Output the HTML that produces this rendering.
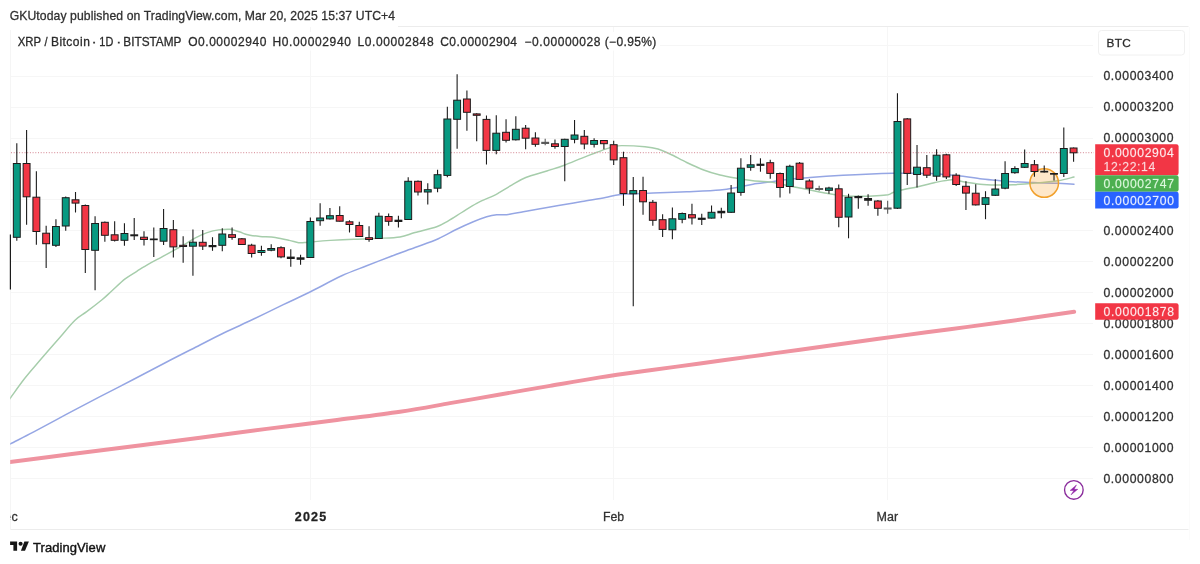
<!DOCTYPE html>
<html lang="en">
<head>
<meta charset="utf-8">
<title>XRP / Bitcoin · 1D · BITSTAMP — TradingView</title>
<style>
html,body{margin:0;padding:0;background:#fff;}
body{width:1200px;height:564px;overflow:hidden;font-family:"Liberation Sans", Arial, Helvetica, sans-serif;}
svg{display:block;}
</style>
</head>
<body>
<svg width="1200" height="564" viewBox="0 0 1200 564" font-family='"Liberation Sans", Arial, Helvetica, sans-serif'>
<rect width="1200" height="564" fill="#ffffff"/>
<g fill="none" stroke="#ececec" stroke-width="1">
<path d="M10.5,529.5V30" stroke="#f5f5f5"/>
<path d="M398,26.5H1188.5"/>
<path d="M10.5,529.5H1188.5"/>
</g>
<path d="M1189.5,27V540" fill="none" stroke="#fbfbfb" stroke-width="1"/>
<g fill="none" stroke="#f6f6f6" stroke-width="1">
<path d="M11,478.5H1093"/>
<path d="M11,447.5H1093"/>
<path d="M11,416.5H1093"/>
<path d="M11,385.5H1093"/>
<path d="M11,354.5H1093"/>
<path d="M11,323.5H1093"/>
<path d="M11,292.5H1093"/>
<path d="M11,261.5H1093"/>
<path d="M11,230.5H1093"/>
<path d="M11,199.5H1093"/>
<path d="M11,168.5H1093"/>
<path d="M11,138.5H1093"/>
<path d="M11,107.5H1093"/>
<path d="M11,76.5H1093"/>
<path d="M660,45.5H1093"/>
<path d="M310.5,27V500"/>
<path d="M613.5,27V500"/>
<path d="M887.5,27V500"/>
</g>
<rect x="12" y="32" width="648" height="18.5" fill="#fff"/>
<rect x="1098.5" y="30.5" width="86" height="24.5" rx="3" fill="#fff" stroke="#f0f0f0"/>
<defs><clipPath id="pane"><rect x="10.2" y="27" width="1083" height="473"/></clipPath></defs>
<g clip-path="url(#pane)">
<path d="M4.0,462.8C5.0,462.7 -1.0,463.4 10.0,462.0C21.0,460.6 49.5,456.9 70.0,454.3C90.5,451.7 111.6,449.0 133.3,446.2C155.0,443.4 177.8,440.6 200.0,437.7C222.2,434.8 244.5,431.8 266.7,428.9C288.9,426.0 310.8,423.4 333.0,420.5C355.2,417.6 380.5,414.6 400.0,411.7C419.5,408.8 433.3,406.1 450.0,403.2C466.7,400.3 483.3,397.4 500.0,394.5C516.7,391.6 533.3,388.8 550.0,385.9C566.7,383.0 583.3,380.0 600.0,377.4C616.7,374.8 633.3,372.6 650.0,370.3C666.7,368.0 683.3,365.8 700.0,363.5C716.7,361.2 733.3,358.9 750.0,356.6C766.7,354.3 783.3,352.0 800.0,349.7C816.7,347.4 833.3,345.0 850.0,342.7C866.7,340.4 883.3,338.1 900.0,335.9C916.7,333.6 933.3,331.4 950.0,329.2C966.7,327.0 979.3,325.4 1000.0,322.5C1020.7,319.6 1061.8,313.5 1074.2,311.7" fill="none" stroke="#ef93a0" stroke-width="3.9" stroke-linecap="round" stroke-linejoin="round"/>
<path d="M4.3,447.0C5.3,446.5 5.5,446.4 10.3,443.9C15.1,441.4 23.9,437.1 33.3,432.2C42.7,427.2 55.6,420.1 66.7,414.2C77.8,408.3 88.9,402.4 100.0,396.6C111.1,390.8 122.2,385.3 133.3,379.5C144.4,373.7 155.6,367.8 166.7,362.0C177.8,356.2 190.8,349.7 200.0,345.0C209.2,340.3 213.4,338.0 221.7,334.0C230.0,330.0 239.7,325.7 250.0,320.8C260.3,315.9 273.3,309.5 283.3,304.7C293.3,299.9 300.3,296.8 310.0,292.0C319.7,287.2 332.2,280.2 341.7,275.8C351.1,271.4 358.6,269.0 366.7,265.8C374.8,262.6 381.9,259.8 390.0,256.7C398.1,253.6 406.9,250.5 415.0,247.5C423.1,244.5 431.4,241.8 438.3,238.7C445.2,235.6 450.9,232.0 456.7,229.2C462.5,226.4 468.3,223.8 473.3,221.7C478.3,219.6 482.8,217.9 486.7,216.7C490.6,215.5 493.4,215.0 496.7,214.7C500.0,214.4 502.3,215.2 506.7,214.7C511.1,214.2 517.8,212.7 523.3,211.7C528.8,210.7 534.1,209.8 540.0,208.8C545.9,207.8 551.5,206.8 558.5,205.6C565.5,204.4 574.2,202.9 582.0,201.5C589.8,200.1 599.0,198.6 605.4,197.4C611.8,196.2 612.7,195.2 620.6,194.5C628.5,193.8 642.0,193.5 653.0,193.0C664.0,192.5 675.5,192.2 686.7,191.7C697.9,191.2 711.7,190.7 720.0,190.0C728.3,189.3 731.2,188.5 736.7,187.5C742.2,186.5 747.5,185.1 753.0,184.2C758.5,183.3 765.0,182.7 770.0,182.0C775.0,181.3 776.3,180.8 783.0,180.0C789.7,179.2 800.0,178.3 810.0,177.5C820.0,176.7 831.9,175.9 843.0,175.3C854.1,174.7 868.4,174.0 876.7,173.7C885.0,173.4 884.1,173.3 893.0,173.3C901.9,173.3 918.3,173.0 930.0,173.5C941.7,174.0 954.7,175.4 963.0,176.3C971.3,177.2 974.4,178.0 980.0,178.7C985.6,179.4 991.2,179.8 996.7,180.3C1002.2,180.8 1007.0,181.3 1013.0,181.7C1019.0,182.1 1025.5,182.2 1033.0,182.5C1040.5,182.8 1051.2,183.0 1058.0,183.3C1064.8,183.6 1071.3,184.0 1074.0,184.2" fill="none" stroke="#95a6e4" stroke-width="1.5" stroke-linecap="round" stroke-linejoin="round"/>
<path d="M4.0,406.7C5.0,405.3 6.5,403.3 10.0,398.5C13.5,393.7 19.7,384.7 25.0,378.0C30.3,371.3 36.2,364.8 41.7,358.3C47.2,351.8 52.8,345.5 58.3,339.2C63.8,332.9 70.3,324.9 75.0,320.3C79.7,315.7 82.2,315.1 86.7,311.7C91.2,308.3 97.5,303.4 101.7,300.0C105.9,296.6 107.8,294.5 111.7,291.0C115.6,287.5 120.9,282.2 125.1,278.9C129.3,275.6 132.9,273.8 136.8,271.3C140.7,268.9 144.6,266.4 148.5,264.2C152.4,261.9 156.4,259.9 160.3,257.8C164.2,255.7 168.1,253.5 172.0,251.3C175.9,249.2 179.8,247.1 183.7,244.9C187.6,242.7 191.5,240.0 195.4,237.9C199.3,235.8 203.2,233.9 207.1,232.6C211.0,231.3 215.0,230.4 218.8,229.9C222.6,229.4 227.3,229.2 230.0,229.3C232.7,229.4 233.3,230.1 235.0,230.5C236.7,230.9 238.3,231.4 240.0,232.0C241.7,232.6 243.3,233.5 245.0,234.0C246.7,234.5 247.5,234.8 250.0,235.2C252.5,235.7 255.8,236.1 260.0,236.5C264.2,236.9 270.3,236.8 275.2,237.5C280.1,238.2 285.4,239.5 289.3,240.4C293.2,241.3 296.1,242.3 298.6,242.7C301.1,243.0 301.8,242.7 304.5,242.5C307.2,242.3 310.7,241.9 315.0,241.6C319.3,241.2 323.9,240.8 330.3,240.4C336.8,240.0 345.9,239.5 353.7,239.2C361.5,238.9 369.4,238.8 377.1,238.4C384.8,238.0 393.7,238.0 400.0,237.0C406.3,236.0 408.9,234.2 415.0,232.5C421.1,230.8 431.1,228.6 436.7,226.7C442.2,224.8 444.1,223.2 448.3,220.8C452.5,218.4 457.0,215.4 461.7,212.5C466.4,209.6 471.4,206.1 476.7,203.3C482.0,200.5 489.4,197.7 493.3,195.8C497.2,193.9 496.9,193.9 500.0,192.1C503.1,190.3 507.4,187.5 511.7,185.1C516.0,182.7 519.9,179.8 525.8,177.5C531.6,175.2 540.4,173.1 546.8,171.0C553.2,168.9 558.5,167.3 564.4,165.2C570.3,163.0 577.1,160.0 582.0,158.1C586.9,156.2 589.8,155.0 593.7,153.5C597.6,152.0 602.2,150.2 605.4,149.1C608.6,148.0 610.3,147.5 613.0,146.9C615.7,146.3 616.5,145.6 621.8,145.6C627.1,145.6 639.0,146.1 645.0,146.7C651.0,147.3 653.8,147.8 658.0,149.0C662.2,150.2 665.2,151.8 670.0,154.0C674.8,156.2 681.2,159.9 686.7,162.5C692.2,165.1 697.5,167.6 703.0,169.7C708.5,171.8 714.4,173.6 720.0,175.0C725.6,176.4 731.2,177.3 736.7,178.3C742.2,179.3 747.5,180.2 753.0,180.8C758.5,181.4 766.0,181.6 770.0,182.0C774.0,182.4 772.9,182.5 776.7,183.3C780.5,184.1 787.5,185.6 793.0,186.7C798.5,187.8 804.4,188.9 810.0,190.0C815.6,191.1 821.2,192.3 826.7,193.3C832.2,194.3 837.5,195.3 843.0,195.8C848.5,196.3 854.4,196.3 860.0,196.3C865.6,196.3 872.0,196.1 876.7,195.8C881.4,195.5 885.3,195.2 888.0,194.7C890.7,194.1 890.7,193.3 893.0,192.5C895.3,191.7 897.5,191.0 901.7,190.0C905.9,189.0 912.5,187.9 918.0,186.7C923.5,185.4 929.4,183.7 935.0,182.5C940.6,181.3 947.0,179.8 951.7,179.7C956.4,179.6 958.3,180.9 963.0,181.7C967.7,182.4 974.4,183.6 980.0,184.2C985.6,184.8 991.2,184.9 996.7,185.0C1002.2,185.1 1007.0,185.0 1013.0,184.7C1019.0,184.4 1025.5,184.0 1033.0,183.3C1040.5,182.7 1051.2,181.9 1058.0,180.8C1064.8,179.8 1071.3,177.6 1074.0,177.0" fill="none" stroke="#a6cdab" stroke-width="1.45" stroke-linecap="round" stroke-linejoin="round"/>
</g>
<path d="M11,152.7H1094" fill="none" stroke="#dc9ca6" stroke-width="1.2" stroke-dasharray="1,1.7"/>
<circle cx="1044.2" cy="183" r="14.3" fill="#fb9a1f" fill-opacity="0.24" stroke="#f1a02c" stroke-width="1.5"/>
<path d="M10.4,234.6V289.5" stroke="#1c1c1c" stroke-width="1.2" fill="none"/>
<g>
<path d="M16.80,143.3V240.8" stroke="#1c1c1c" stroke-width="1.1" fill="none"/>
<rect x="13.35" y="163.5" width="6.9" height="73.8" fill="#089981" stroke="#1c1c1c" stroke-width="1"/>
<path d="M26.59,130.0V224.7" stroke="#1c1c1c" stroke-width="1.1" fill="none"/>
<rect x="23.14" y="163.5" width="6.9" height="33.3" fill="#f23645" stroke="#1c1c1c" stroke-width="1"/>
<path d="M36.37,171.3V244.7" stroke="#1c1c1c" stroke-width="1.1" fill="none"/>
<rect x="32.92" y="197.2" width="6.9" height="34.3" fill="#f23645" stroke="#1c1c1c" stroke-width="1"/>
<path d="M46.16,225.8V268.0" stroke="#1c1c1c" stroke-width="1.1" fill="none"/>
<rect x="42.70" y="233.2" width="6.9" height="10.5" fill="#f23645" stroke="#1c1c1c" stroke-width="1"/>
<path d="M55.94,219.2V247.0" stroke="#1c1c1c" stroke-width="1.1" fill="none"/>
<rect x="52.49" y="226.5" width="6.9" height="18.8" fill="#089981" stroke="#1c1c1c" stroke-width="1"/>
<path d="M65.72,196.5V230.8" stroke="#1c1c1c" stroke-width="1.1" fill="none"/>
<rect x="62.27" y="197.7" width="6.9" height="28.3" fill="#089981" stroke="#1c1c1c" stroke-width="1"/>
<path d="M75.51,192.0V212.5" stroke="#1c1c1c" stroke-width="1.1" fill="none"/>
<rect x="72.06" y="199.8" width="6.9" height="3.3" fill="#f23645" stroke="#1c1c1c" stroke-width="1"/>
<path d="M85.30,204.5V273.0" stroke="#1c1c1c" stroke-width="1.1" fill="none"/>
<rect x="81.84" y="205.5" width="6.9" height="44.0" fill="#f23645" stroke="#1c1c1c" stroke-width="1"/>
<path d="M95.08,216.2V290.3" stroke="#1c1c1c" stroke-width="1.1" fill="none"/>
<rect x="91.63" y="223.5" width="6.9" height="26.8" fill="#089981" stroke="#1c1c1c" stroke-width="1"/>
<path d="M104.86,221.5V241.7" stroke="#1c1c1c" stroke-width="1.1" fill="none"/>
<rect x="101.41" y="222.3" width="6.9" height="13.0" fill="#f23645" stroke="#1c1c1c" stroke-width="1"/>
<path d="M114.65,221.2V241.5" stroke="#1c1c1c" stroke-width="1.1" fill="none"/>
<rect x="111.20" y="234.8" width="6.9" height="5.5" fill="#f23645" stroke="#1c1c1c" stroke-width="1"/>
<path d="M124.44,223.3V245.8" stroke="#1c1c1c" stroke-width="1.1" fill="none"/>
<rect x="120.98" y="233.5" width="6.9" height="6.8" fill="#089981" stroke="#1c1c1c" stroke-width="1"/>
<path d="M134.22,218.0V240.0" stroke="#1c1c1c" stroke-width="1.1" fill="none"/>
<rect x="130.27" y="234.3" width="7.9" height="2.0" fill="#1c1c1c"/>
<path d="M144.00,231.2V245.5" stroke="#1c1c1c" stroke-width="1.1" fill="none"/>
<rect x="140.56" y="237.2" width="6.9" height="2.3" fill="#f23645" stroke="#1c1c1c" stroke-width="1"/>
<path d="M153.79,227.5V257.0" stroke="#1c1c1c" stroke-width="1.1" fill="none"/>
<rect x="149.84" y="238.5" width="7.9" height="1.7" fill="#1c1c1c"/>
<path d="M163.58,209.0V245.0" stroke="#1c1c1c" stroke-width="1.1" fill="none"/>
<rect x="160.13" y="228.5" width="6.9" height="12.7" fill="#089981" stroke="#1c1c1c" stroke-width="1"/>
<path d="M173.36,220.0V257.5" stroke="#1c1c1c" stroke-width="1.1" fill="none"/>
<rect x="169.91" y="229.7" width="6.9" height="17.2" fill="#f23645" stroke="#1c1c1c" stroke-width="1"/>
<path d="M183.15,236.2V262.8" stroke="#1c1c1c" stroke-width="1.1" fill="none"/>
<rect x="179.70" y="245.3" width="6.9" height="1.2" fill="#f23645" stroke="#1c1c1c" stroke-width="1"/>
<path d="M192.93,229.6V275.8" stroke="#1c1c1c" stroke-width="1.1" fill="none"/>
<rect x="189.48" y="242.2" width="6.9" height="4.0" fill="#089981" stroke="#1c1c1c" stroke-width="1"/>
<path d="M202.72,230.0V250.0" stroke="#1c1c1c" stroke-width="1.1" fill="none"/>
<rect x="199.27" y="242.3" width="6.9" height="3.8" fill="#f23645" stroke="#1c1c1c" stroke-width="1"/>
<path d="M212.50,237.2V250.8" stroke="#1c1c1c" stroke-width="1.1" fill="none"/>
<rect x="208.55" y="245.0" width="7.9" height="2.2" fill="#1c1c1c"/>
<path d="M222.29,228.3V251.3" stroke="#1c1c1c" stroke-width="1.1" fill="none"/>
<rect x="218.84" y="234.0" width="6.9" height="11.3" fill="#089981" stroke="#1c1c1c" stroke-width="1"/>
<path d="M232.07,227.5V239.7" stroke="#1c1c1c" stroke-width="1.1" fill="none"/>
<rect x="228.62" y="234.7" width="6.9" height="2.7" fill="#f23645" stroke="#1c1c1c" stroke-width="1"/>
<path d="M241.86,238.0V245.0" stroke="#1c1c1c" stroke-width="1.1" fill="none"/>
<rect x="238.41" y="238.8" width="6.9" height="5.7" fill="#f23645" stroke="#1c1c1c" stroke-width="1"/>
<path d="M251.64,243.7V257.5" stroke="#1c1c1c" stroke-width="1.1" fill="none"/>
<rect x="248.19" y="245.2" width="6.9" height="8.3" fill="#f23645" stroke="#1c1c1c" stroke-width="1"/>
<path d="M261.43,245.8V255.8" stroke="#1c1c1c" stroke-width="1.1" fill="none"/>
<rect x="257.98" y="250.5" width="6.9" height="2.0" fill="#089981" stroke="#1c1c1c" stroke-width="1"/>
<path d="M271.21,244.2V251.3" stroke="#1c1c1c" stroke-width="1.1" fill="none"/>
<rect x="267.76" y="248.5" width="6.9" height="1.7" fill="#089981" stroke="#1c1c1c" stroke-width="1"/>
<path d="M281.00,246.2V258.3" stroke="#1c1c1c" stroke-width="1.1" fill="none"/>
<rect x="277.55" y="247.7" width="6.9" height="9.2" fill="#f23645" stroke="#1c1c1c" stroke-width="1"/>
<path d="M290.78,249.2V266.7" stroke="#1c1c1c" stroke-width="1.1" fill="none"/>
<rect x="286.83" y="256.6" width="7.9" height="2.4" fill="#1c1c1c"/>
<path d="M300.56,254.7V264.7" stroke="#1c1c1c" stroke-width="1.1" fill="none"/>
<rect x="296.62" y="257.3" width="7.9" height="2.5" fill="#1c1c1c"/>
<path d="M310.35,217.5V258.0" stroke="#1c1c1c" stroke-width="1.1" fill="none"/>
<rect x="306.90" y="221.5" width="6.9" height="36.0" fill="#089981" stroke="#1c1c1c" stroke-width="1"/>
<path d="M320.13,203.3V225.8" stroke="#1c1c1c" stroke-width="1.1" fill="none"/>
<rect x="316.69" y="218.0" width="6.9" height="2.7" fill="#089981" stroke="#1c1c1c" stroke-width="1"/>
<path d="M329.92,208.0V219.5" stroke="#1c1c1c" stroke-width="1.1" fill="none"/>
<rect x="326.47" y="215.7" width="6.9" height="3.2" fill="#089981" stroke="#1c1c1c" stroke-width="1"/>
<path d="M339.71,206.2V221.5" stroke="#1c1c1c" stroke-width="1.1" fill="none"/>
<rect x="336.26" y="215.5" width="6.9" height="5.7" fill="#f23645" stroke="#1c1c1c" stroke-width="1"/>
<path d="M349.49,220.3V232.5" stroke="#1c1c1c" stroke-width="1.1" fill="none"/>
<rect x="346.04" y="221.8" width="6.9" height="2.7" fill="#f23645" stroke="#1c1c1c" stroke-width="1"/>
<path d="M359.28,221.7V237.0" stroke="#1c1c1c" stroke-width="1.1" fill="none"/>
<rect x="355.83" y="225.5" width="6.9" height="11.0" fill="#f23645" stroke="#1c1c1c" stroke-width="1"/>
<path d="M369.06,226.2V241.7" stroke="#1c1c1c" stroke-width="1.1" fill="none"/>
<rect x="365.61" y="237.7" width="6.9" height="1.8" fill="#f23645" stroke="#1c1c1c" stroke-width="1"/>
<path d="M378.85,212.8V239.0" stroke="#1c1c1c" stroke-width="1.1" fill="none"/>
<rect x="375.40" y="216.2" width="6.9" height="22.3" fill="#089981" stroke="#1c1c1c" stroke-width="1"/>
<path d="M388.63,213.5V225.8" stroke="#1c1c1c" stroke-width="1.1" fill="none"/>
<rect x="385.18" y="216.5" width="6.9" height="4.8" fill="#f23645" stroke="#1c1c1c" stroke-width="1"/>
<path d="M398.42,215.8V227.5" stroke="#1c1c1c" stroke-width="1.1" fill="none"/>
<rect x="394.47" y="219.7" width="7.9" height="2.3" fill="#1c1c1c"/>
<path d="M408.20,177.2V220.0" stroke="#1c1c1c" stroke-width="1.1" fill="none"/>
<rect x="404.75" y="181.3" width="6.9" height="38.2" fill="#089981" stroke="#1c1c1c" stroke-width="1"/>
<path d="M417.99,180.5V195.5" stroke="#1c1c1c" stroke-width="1.1" fill="none"/>
<rect x="414.54" y="181.3" width="6.9" height="10.7" fill="#f23645" stroke="#1c1c1c" stroke-width="1"/>
<path d="M427.77,183.3V204.5" stroke="#1c1c1c" stroke-width="1.1" fill="none"/>
<rect x="424.32" y="189.7" width="6.9" height="2.3" fill="#089981" stroke="#1c1c1c" stroke-width="1"/>
<path d="M437.56,169.7V192.2" stroke="#1c1c1c" stroke-width="1.1" fill="none"/>
<rect x="434.11" y="174.7" width="6.9" height="13.5" fill="#089981" stroke="#1c1c1c" stroke-width="1"/>
<path d="M447.34,106.7V177.2" stroke="#1c1c1c" stroke-width="1.1" fill="none"/>
<rect x="443.89" y="119.0" width="6.9" height="56.4" fill="#089981" stroke="#1c1c1c" stroke-width="1"/>
<path d="M457.12,74.2V148.8" stroke="#1c1c1c" stroke-width="1.1" fill="none"/>
<rect x="453.68" y="100.2" width="6.9" height="19.1" fill="#089981" stroke="#1c1c1c" stroke-width="1"/>
<path d="M466.91,90.5V130.8" stroke="#1c1c1c" stroke-width="1.1" fill="none"/>
<rect x="463.46" y="99.0" width="6.9" height="13.3" fill="#f23645" stroke="#1c1c1c" stroke-width="1"/>
<path d="M476.69,113.3V141.2" stroke="#1c1c1c" stroke-width="1.1" fill="none"/>
<rect x="473.25" y="113.9" width="6.9" height="1.4" fill="#f23645" stroke="#1c1c1c" stroke-width="1"/>
<path d="M486.48,115.5V164.5" stroke="#1c1c1c" stroke-width="1.1" fill="none"/>
<rect x="483.03" y="119.4" width="6.9" height="31.0" fill="#f23645" stroke="#1c1c1c" stroke-width="1"/>
<path d="M496.27,115.3V154.2" stroke="#1c1c1c" stroke-width="1.1" fill="none"/>
<rect x="492.82" y="133.2" width="6.9" height="17.2" fill="#089981" stroke="#1c1c1c" stroke-width="1"/>
<path d="M506.05,119.2V142.5" stroke="#1c1c1c" stroke-width="1.1" fill="none"/>
<rect x="502.60" y="132.3" width="6.9" height="8.0" fill="#f23645" stroke="#1c1c1c" stroke-width="1"/>
<path d="M515.84,116.2V140.5" stroke="#1c1c1c" stroke-width="1.1" fill="none"/>
<rect x="512.38" y="129.3" width="6.9" height="10.5" fill="#089981" stroke="#1c1c1c" stroke-width="1"/>
<path d="M525.62,125.0V149.2" stroke="#1c1c1c" stroke-width="1.1" fill="none"/>
<rect x="522.17" y="128.2" width="6.9" height="10.0" fill="#f23645" stroke="#1c1c1c" stroke-width="1"/>
<path d="M535.40,132.2V146.7" stroke="#1c1c1c" stroke-width="1.1" fill="none"/>
<rect x="531.95" y="138.0" width="6.9" height="6.3" fill="#f23645" stroke="#1c1c1c" stroke-width="1"/>
<path d="M545.19,138.8V145.3" stroke="#5a5a5a" stroke-width="1.1" fill="none"/>
<rect x="541.24" y="141.8" width="7.9" height="2.2" fill="#5a5a5a"/>
<path d="M554.97,139.5V148.8" stroke="#1c1c1c" stroke-width="1.1" fill="none"/>
<rect x="551.52" y="143.8" width="6.9" height="2.7" fill="#f23645" stroke="#1c1c1c" stroke-width="1"/>
<path d="M564.76,138.8V181.2" stroke="#1c1c1c" stroke-width="1.1" fill="none"/>
<rect x="561.31" y="139.3" width="6.9" height="7.2" fill="#089981" stroke="#1c1c1c" stroke-width="1"/>
<path d="M574.54,120.0V143.3" stroke="#1c1c1c" stroke-width="1.1" fill="none"/>
<rect x="571.09" y="135.0" width="6.9" height="4.3" fill="#089981" stroke="#1c1c1c" stroke-width="1"/>
<path d="M584.33,130.0V149.2" stroke="#1c1c1c" stroke-width="1.1" fill="none"/>
<rect x="580.88" y="136.3" width="6.9" height="7.7" fill="#f23645" stroke="#1c1c1c" stroke-width="1"/>
<path d="M594.12,138.3V147.5" stroke="#1c1c1c" stroke-width="1.1" fill="none"/>
<rect x="590.66" y="140.5" width="6.9" height="3.8" fill="#089981" stroke="#1c1c1c" stroke-width="1"/>
<path d="M603.90,140.0V149.2" stroke="#1c1c1c" stroke-width="1.1" fill="none"/>
<rect x="600.45" y="140.5" width="6.9" height="3.2" fill="#f23645" stroke="#1c1c1c" stroke-width="1"/>
<path d="M613.68,140.8V165.0" stroke="#1c1c1c" stroke-width="1.1" fill="none"/>
<rect x="610.23" y="144.7" width="6.9" height="15.2" fill="#f23645" stroke="#1c1c1c" stroke-width="1"/>
<path d="M623.47,151.7V205.8" stroke="#1c1c1c" stroke-width="1.1" fill="none"/>
<rect x="620.02" y="157.7" width="6.9" height="35.8" fill="#f23645" stroke="#1c1c1c" stroke-width="1"/>
<path d="M633.25,177.0V306.2" stroke="#1c1c1c" stroke-width="1.1" fill="none"/>
<rect x="629.80" y="190.6" width="6.9" height="3.2" fill="#089981" stroke="#1c1c1c" stroke-width="1"/>
<path d="M643.04,176.7V214.7" stroke="#1c1c1c" stroke-width="1.1" fill="none"/>
<rect x="639.59" y="190.5" width="6.9" height="11.3" fill="#f23645" stroke="#1c1c1c" stroke-width="1"/>
<path d="M652.82,200.0V225.8" stroke="#1c1c1c" stroke-width="1.1" fill="none"/>
<rect x="649.37" y="202.3" width="6.9" height="18.0" fill="#f23645" stroke="#1c1c1c" stroke-width="1"/>
<path d="M662.61,214.2V237.0" stroke="#1c1c1c" stroke-width="1.1" fill="none"/>
<rect x="659.16" y="219.7" width="6.9" height="9.7" fill="#f23645" stroke="#1c1c1c" stroke-width="1"/>
<path d="M672.39,207.5V239.2" stroke="#1c1c1c" stroke-width="1.1" fill="none"/>
<rect x="668.94" y="218.8" width="6.9" height="11.0" fill="#089981" stroke="#1c1c1c" stroke-width="1"/>
<path d="M682.18,212.5V223.3" stroke="#1c1c1c" stroke-width="1.1" fill="none"/>
<rect x="678.73" y="213.5" width="6.9" height="5.8" fill="#089981" stroke="#1c1c1c" stroke-width="1"/>
<path d="M691.96,203.8V224.5" stroke="#1c1c1c" stroke-width="1.1" fill="none"/>
<rect x="688.51" y="214.7" width="6.9" height="3.2" fill="#f23645" stroke="#1c1c1c" stroke-width="1"/>
<path d="M701.75,213.8V225.0" stroke="#1c1c1c" stroke-width="1.1" fill="none"/>
<rect x="697.80" y="217.7" width="7.9" height="2.2" fill="#1c1c1c"/>
<path d="M711.53,205.5V218.5" stroke="#1c1c1c" stroke-width="1.1" fill="none"/>
<rect x="708.08" y="212.3" width="6.9" height="5.8" fill="#089981" stroke="#1c1c1c" stroke-width="1"/>
<path d="M721.32,207.8V218.3" stroke="#1c1c1c" stroke-width="1.1" fill="none"/>
<rect x="717.37" y="210.8" width="7.9" height="2.5" fill="#1c1c1c"/>
<path d="M731.11,185.0V213.0" stroke="#1c1c1c" stroke-width="1.1" fill="none"/>
<rect x="727.65" y="193.0" width="6.9" height="19.3" fill="#089981" stroke="#1c1c1c" stroke-width="1"/>
<path d="M740.89,158.3V195.8" stroke="#1c1c1c" stroke-width="1.1" fill="none"/>
<rect x="737.44" y="168.2" width="6.9" height="24.2" fill="#089981" stroke="#1c1c1c" stroke-width="1"/>
<path d="M750.67,155.0V170.8" stroke="#1c1c1c" stroke-width="1.1" fill="none"/>
<rect x="747.22" y="164.8" width="6.9" height="2.5" fill="#089981" stroke="#1c1c1c" stroke-width="1"/>
<path d="M760.46,158.3V171.7" stroke="#1c1c1c" stroke-width="1.1" fill="none"/>
<rect x="756.51" y="163.7" width="7.9" height="2.2" fill="#1c1c1c"/>
<path d="M770.25,159.7V178.8" stroke="#1c1c1c" stroke-width="1.1" fill="none"/>
<rect x="766.79" y="162.7" width="6.9" height="10.7" fill="#f23645" stroke="#1c1c1c" stroke-width="1"/>
<path d="M780.03,172.5V197.6" stroke="#1c1c1c" stroke-width="1.1" fill="none"/>
<rect x="776.58" y="173.5" width="6.9" height="14.0" fill="#f23645" stroke="#1c1c1c" stroke-width="1"/>
<path d="M789.81,164.7V193.5" stroke="#1c1c1c" stroke-width="1.1" fill="none"/>
<rect x="786.36" y="166.3" width="6.9" height="20.2" fill="#089981" stroke="#1c1c1c" stroke-width="1"/>
<path d="M799.60,162.0V180.0" stroke="#1c1c1c" stroke-width="1.1" fill="none"/>
<rect x="796.15" y="163.2" width="6.9" height="16.2" fill="#f23645" stroke="#1c1c1c" stroke-width="1"/>
<path d="M809.38,179.2V193.7" stroke="#1c1c1c" stroke-width="1.1" fill="none"/>
<rect x="805.93" y="181.0" width="6.9" height="7.2" fill="#f23645" stroke="#1c1c1c" stroke-width="1"/>
<path d="M819.17,185.8V190.8" stroke="#5a5a5a" stroke-width="1.1" fill="none"/>
<rect x="815.22" y="188.0" width="7.9" height="2.0" fill="#5a5a5a"/>
<path d="M828.95,186.7V193.7" stroke="#1c1c1c" stroke-width="1.1" fill="none"/>
<rect x="825.50" y="188.0" width="6.9" height="2.3" fill="#089981" stroke="#1c1c1c" stroke-width="1"/>
<path d="M838.74,184.6V227.2" stroke="#1c1c1c" stroke-width="1.1" fill="none"/>
<rect x="835.29" y="188.8" width="6.9" height="28.5" fill="#f23645" stroke="#1c1c1c" stroke-width="1"/>
<path d="M848.52,193.8V238.3" stroke="#1c1c1c" stroke-width="1.1" fill="none"/>
<rect x="845.07" y="197.3" width="6.9" height="19.7" fill="#089981" stroke="#1c1c1c" stroke-width="1"/>
<path d="M858.31,195.5V208.7" stroke="#1c1c1c" stroke-width="1.1" fill="none"/>
<rect x="854.36" y="196.0" width="7.9" height="2.2" fill="#1c1c1c"/>
<path d="M868.09,194.2V205.8" stroke="#1c1c1c" stroke-width="1.1" fill="none"/>
<rect x="864.14" y="198.0" width="7.9" height="2.8" fill="#1c1c1c"/>
<path d="M877.88,200.0V215.8" stroke="#1c1c1c" stroke-width="1.1" fill="none"/>
<rect x="874.43" y="201.0" width="6.9" height="7.3" fill="#f23645" stroke="#1c1c1c" stroke-width="1"/>
<path d="M887.66,200.8V213.7" stroke="#5a5a5a" stroke-width="1.1" fill="none"/>
<rect x="883.71" y="207.5" width="7.9" height="2.0" fill="#5a5a5a"/>
<path d="M897.45,93.3V209.0" stroke="#1c1c1c" stroke-width="1.1" fill="none"/>
<rect x="894.00" y="121.5" width="6.9" height="86.7" fill="#089981" stroke="#1c1c1c" stroke-width="1"/>
<path d="M907.24,118.0V185.0" stroke="#1c1c1c" stroke-width="1.1" fill="none"/>
<rect x="903.78" y="118.9" width="6.9" height="54.5" fill="#f23645" stroke="#1c1c1c" stroke-width="1"/>
<path d="M917.02,145.0V187.5" stroke="#1c1c1c" stroke-width="1.1" fill="none"/>
<rect x="913.57" y="167.2" width="6.9" height="7.3" fill="#089981" stroke="#1c1c1c" stroke-width="1"/>
<path d="M926.80,155.0V178.0" stroke="#1c1c1c" stroke-width="1.1" fill="none"/>
<rect x="923.35" y="167.7" width="6.9" height="7.5" fill="#f23645" stroke="#1c1c1c" stroke-width="1"/>
<path d="M936.59,149.3V180.8" stroke="#1c1c1c" stroke-width="1.1" fill="none"/>
<rect x="933.14" y="155.2" width="6.9" height="21.0" fill="#089981" stroke="#1c1c1c" stroke-width="1"/>
<path d="M946.38,153.8V179.0" stroke="#1c1c1c" stroke-width="1.1" fill="none"/>
<rect x="942.92" y="154.8" width="6.9" height="22.1" fill="#f23645" stroke="#1c1c1c" stroke-width="1"/>
<path d="M956.16,173.2V186.0" stroke="#1c1c1c" stroke-width="1.1" fill="none"/>
<rect x="952.71" y="175.2" width="6.9" height="9.3" fill="#f23645" stroke="#1c1c1c" stroke-width="1"/>
<path d="M965.94,181.3V210.0" stroke="#1c1c1c" stroke-width="1.1" fill="none"/>
<rect x="962.49" y="186.3" width="6.9" height="6.8" fill="#f23645" stroke="#1c1c1c" stroke-width="1"/>
<path d="M975.73,184.2V205.5" stroke="#1c1c1c" stroke-width="1.1" fill="none"/>
<rect x="972.28" y="193.2" width="6.9" height="11.7" fill="#f23645" stroke="#1c1c1c" stroke-width="1"/>
<path d="M985.51,191.2V219.2" stroke="#1c1c1c" stroke-width="1.1" fill="none"/>
<rect x="982.06" y="197.7" width="6.9" height="6.7" fill="#089981" stroke="#1c1c1c" stroke-width="1"/>
<path d="M995.30,179.2V196.0" stroke="#1c1c1c" stroke-width="1.1" fill="none"/>
<rect x="991.85" y="189.0" width="6.9" height="6.3" fill="#089981" stroke="#1c1c1c" stroke-width="1"/>
<path d="M1005.08,161.3V189.2" stroke="#1c1c1c" stroke-width="1.1" fill="none"/>
<rect x="1001.63" y="173.5" width="6.9" height="14.7" fill="#089981" stroke="#1c1c1c" stroke-width="1"/>
<path d="M1014.87,166.3V173.8" stroke="#1c1c1c" stroke-width="1.1" fill="none"/>
<rect x="1011.42" y="168.5" width="6.9" height="4.2" fill="#089981" stroke="#1c1c1c" stroke-width="1"/>
<path d="M1024.65,149.5V168.0" stroke="#1c1c1c" stroke-width="1.1" fill="none"/>
<rect x="1021.20" y="163.5" width="6.9" height="3.8" fill="#089981" stroke="#1c1c1c" stroke-width="1"/>
<path d="M1034.44,160.0V176.7" stroke="#1c1c1c" stroke-width="1.1" fill="none"/>
<rect x="1030.99" y="164.7" width="6.9" height="6.8" fill="#f23645" stroke="#1c1c1c" stroke-width="1"/>
<path d="M1044.22,165.5V172.5" stroke="#1c1c1c" stroke-width="1.1" fill="none"/>
<rect x="1040.27" y="170.8" width="7.9" height="1.7" fill="#1c1c1c"/>
<path d="M1054.01,173.3V180.5" stroke="#1c1c1c" stroke-width="1.1" fill="none"/>
<rect x="1050.06" y="173.0" width="7.9" height="1.7" fill="#1c1c1c"/>
<path d="M1063.80,127.5V177.0" stroke="#1c1c1c" stroke-width="1.1" fill="none"/>
<rect x="1060.35" y="148.5" width="6.9" height="25.0" fill="#089981" stroke="#1c1c1c" stroke-width="1"/>
<path d="M1073.58,147.5V161.7" stroke="#1c1c1c" stroke-width="1.1" fill="none"/>
<rect x="1070.13" y="148.0" width="6.9" height="4.8" fill="#f23645" stroke="#1c1c1c" stroke-width="1"/>
</g>
<text x="1103.39" y="482.50" font-size="12.2" fill="#303030" stroke="#303030" stroke-width="0.28" textLength="70.18" lengthAdjust="spacing">0.00000800</text>
<text x="1103.39" y="451.57" font-size="12.2" fill="#303030" stroke="#303030" stroke-width="0.28" textLength="70.18" lengthAdjust="spacing">0.00001000</text>
<text x="1103.39" y="420.65" font-size="12.2" fill="#303030" stroke="#303030" stroke-width="0.28" textLength="70.18" lengthAdjust="spacing">0.00001200</text>
<text x="1103.39" y="389.72" font-size="12.2" fill="#303030" stroke="#303030" stroke-width="0.28" textLength="70.18" lengthAdjust="spacing">0.00001400</text>
<text x="1103.39" y="358.79" font-size="12.2" fill="#303030" stroke="#303030" stroke-width="0.28" textLength="70.18" lengthAdjust="spacing">0.00001600</text>
<text x="1103.39" y="327.87" font-size="12.2" fill="#303030" stroke="#303030" stroke-width="0.28" textLength="70.18" lengthAdjust="spacing">0.00001800</text>
<text x="1103.39" y="296.94" font-size="12.2" fill="#303030" stroke="#303030" stroke-width="0.28" textLength="70.18" lengthAdjust="spacing">0.00002000</text>
<text x="1103.39" y="266.01" font-size="12.2" fill="#303030" stroke="#303030" stroke-width="0.28" textLength="70.18" lengthAdjust="spacing">0.00002200</text>
<text x="1103.39" y="235.09" font-size="12.2" fill="#303030" stroke="#303030" stroke-width="0.28" textLength="70.18" lengthAdjust="spacing">0.00002400</text>
<text x="1103.39" y="142.30" font-size="12.2" fill="#303030" stroke="#303030" stroke-width="0.28" textLength="70.18" lengthAdjust="spacing">0.00003000</text>
<text x="1103.39" y="111.38" font-size="12.2" fill="#303030" stroke="#303030" stroke-width="0.28" textLength="70.18" lengthAdjust="spacing">0.00003200</text>
<text x="1103.39" y="80.45" font-size="12.2" fill="#303030" stroke="#303030" stroke-width="0.28" textLength="70.18" lengthAdjust="spacing">0.00003400</text>
<path d="M1095.2,144.3H1176.4Q1178.6,144.3 1178.6,146.5V173.0Q1178.6,175.2 1176.4,175.2H1095.2Z" fill="#f23645"/>
<path d="M1095.2,175.2H1176.4Q1178.6,175.2 1178.6,177.4V189.5Q1178.6,191.7 1176.4,191.7H1095.2Z" fill="#4caf50"/>
<path d="M1095.2,191.7H1176.4Q1178.6,191.7 1178.6,193.9V206.3Q1178.6,208.5 1176.4,208.5H1095.2Z" fill="#2962ff"/>
<path d="M1095.2,303.2H1176.4Q1178.6,303.2 1178.6,305.4V317.6Q1178.6,319.8 1176.4,319.8H1095.2Z" fill="#f23645"/>
<defs><clipPath id="cl"><rect x="10.3" y="500" width="40" height="29"/></clipPath></defs>
<text x="9.65" y="19.55" font-size="12.2" fill="#303030" stroke="#303030" stroke-width="0.28" textLength="385.42" lengthAdjust="spacing">GKUtoday published on TradingView.com, Mar 20, 2025 15:37 UTC+4</text>
<text x="17.75" y="45.85" font-size="12.0" fill="#2b2b2b" stroke="#2b2b2b" stroke-width="0.28" textLength="23.39" lengthAdjust="spacingAndGlyphs">XRP</text>
<text x="44.50" y="45.85" font-size="12.0" fill="#2b2b2b" stroke="#2b2b2b" stroke-width="0.28" textLength="3.09" lengthAdjust="spacingAndGlyphs">/</text>
<text x="50.89" y="45.85" font-size="12.0" fill="#2b2b2b" stroke="#2b2b2b" stroke-width="0.28" textLength="38.98" lengthAdjust="spacing">Bitcoin</text>
<text x="91.55" y="45.85" font-size="12.0" fill="#2b2b2b" stroke="#2b2b2b" stroke-width="0.28" textLength="5.23" lengthAdjust="spacingAndGlyphs">·</text>
<text x="99.36" y="45.85" font-size="12.0" fill="#2b2b2b" stroke="#2b2b2b" stroke-width="0.28" textLength="13.91" lengthAdjust="spacingAndGlyphs">1D</text>
<text x="116.17" y="45.85" font-size="12.0" fill="#2b2b2b" stroke="#2b2b2b" stroke-width="0.28" textLength="5.06" lengthAdjust="spacingAndGlyphs">·</text>
<text x="123.33" y="45.85" font-size="12.0" fill="#2b2b2b" stroke="#2b2b2b" stroke-width="0.28" textLength="58.06" lengthAdjust="spacingAndGlyphs">BITSTAMP</text>
<text x="188.17" y="45.85" font-size="12.0" fill="#2b2b2b" stroke="#2b2b2b" stroke-width="0.28" textLength="78.23" lengthAdjust="spacing">O0.00002940</text>
<text x="272.50" y="45.85" font-size="12.0" fill="#2b2b2b" stroke="#2b2b2b" stroke-width="0.28" textLength="78.38" lengthAdjust="spacing">H0.00002940</text>
<text x="357.40" y="45.85" font-size="12.0" fill="#2b2b2b" stroke="#2b2b2b" stroke-width="0.28" textLength="76.18" lengthAdjust="spacing">L0.00002848</text>
<text x="440.15" y="45.85" font-size="12.0" fill="#2b2b2b" stroke="#2b2b2b" stroke-width="0.28" textLength="76.90" lengthAdjust="spacing">C0.00002904</text>
<text x="524.50" y="45.85" font-size="12.0" fill="#2b2b2b" stroke="#2b2b2b" stroke-width="0.28" textLength="76.01" lengthAdjust="spacing">−0.00000028</text>
<text x="604.75" y="45.85" font-size="12.0" fill="#2b2b2b" stroke="#2b2b2b" stroke-width="0.28" textLength="51.44" lengthAdjust="spacing">(−0.95%)</text>
<text x="1106.56" y="46.80" font-size="11.8" fill="#2b2b2b" stroke="#2b2b2b" stroke-width="0.28" textLength="24.24" lengthAdjust="spacing">BTC</text>
<text x="1103.50" y="157.20" font-size="12.2" fill="#ffffff" stroke="#ffffff" stroke-width="0.28" fill-opacity="0.88" stroke-opacity="0.5" textLength="70.18" lengthAdjust="spacing">0.00002904</text>
<text x="1103.50" y="170.90" font-size="12.2" fill="#ffffff" stroke="#ffffff" stroke-width="0.28" fill-opacity="0.78" stroke-opacity="0.4" textLength="51.68" lengthAdjust="spacing">12:22:14</text>
<text x="1103.50" y="187.60" font-size="12.2" fill="#eaffea" stroke="#eaffea" stroke-width="0.28" fill-opacity="0.9" stroke-opacity="0.5" textLength="70.46" lengthAdjust="spacing">0.00002747</text>
<text x="1103.50" y="204.50" font-size="12.2" fill="#ffffff" stroke="#ffffff" stroke-width="0.28" fill-opacity="0.88" stroke-opacity="0.5" textLength="70.41" lengthAdjust="spacing">0.00002700</text>
<text x="1103.50" y="315.90" font-size="12.2" fill="#ffffff" stroke="#ffffff" stroke-width="0.28" fill-opacity="0.88" stroke-opacity="0.5" textLength="70.41" lengthAdjust="spacing">0.00001878</text>
<text x="-5.39" y="520.80" font-size="12.5" fill="#333" stroke="#333" stroke-width="0.28" clip-path="url(#cl)" textLength="23.18" lengthAdjust="spacing">Dec</text>
<text x="294.85" y="520.80" font-size="12.5" fill="#222" stroke="#222" stroke-width="0.28" font-weight="bold" textLength="31.24" lengthAdjust="spacing">2025</text>
<text x="602.89" y="520.80" font-size="12.5" fill="#333" stroke="#333" stroke-width="0.28" textLength="21.18" lengthAdjust="spacingAndGlyphs">Feb</text>
<text x="876.50" y="520.80" font-size="12.5" fill="#333" stroke="#333" stroke-width="0.28" textLength="21.68" lengthAdjust="spacing">Mar</text>
<text x="32.92" y="551.80" font-size="13" fill="#141414" stroke="#141414" stroke-width="0.4" textLength="72.37" lengthAdjust="spacing">TradingView</text>
<g transform="translate(1073.85,489.9)">
<circle r="9.3" fill="#fff" stroke="#8a2c9c" stroke-width="1.35"/>
<path d="M2.6,-4.9L-3.7,0.5H0.1L-2.8,4.9L3.9,-0.6H0.2Z" fill="#8f22a6" stroke="#8f22a6" stroke-width="0.5" stroke-linejoin="round"/>
</g>
<g fill="#161616">
<path d="M10.1,541.6H17.1V550.8H13.4V544.9H10.1Z"/>
<circle cx="20.6" cy="543.7" r="2.05"/>
<path d="M24.4,541.6H28.9L25,550.8H20.9Z"/>
</g>
</svg>
</body>
</html>
